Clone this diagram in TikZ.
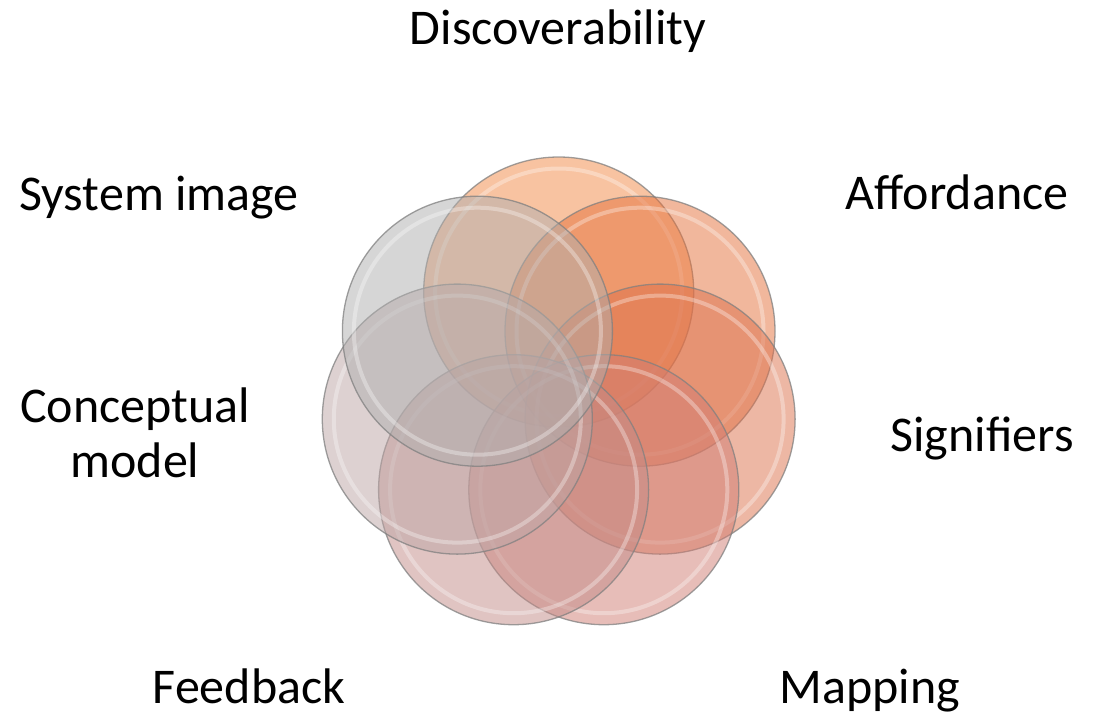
\documentclass[tikz,border=0pt]{standalone}
\usepackage{fontspec}
\setmainfont{Carlito}
\begin{document}
\begin{tikzpicture}[x=1pt,y=-1pt]
\useasboundingbox[fill=white] (0,0) rectangle (1106,716);
\definecolor{cA}{RGB}{243,137,69}
\definecolor{cB}{RGB}{229,112,58}
\definecolor{cC}{RGB}{221,112,75}
\definecolor{cD}{RGB}{209,125,115}
\definecolor{cE}{RGB}{195,139,135}
\definecolor{cF}{RGB}{189,165,165}
\definecolor{cG}{RGB}{175,175,175}
\tikzset{
  bubble/.style={circle, minimum size=270pt, inner sep=0pt, outer sep=0pt,
    fill=#1, fill opacity=0.5, draw=black!50, draw opacity=0.75, line width=1.3pt},
  gloss/.style={circle, minimum size=247pt, inner sep=0pt, outer sep=0pt,
    draw=white, draw opacity=0.32, line width=4pt},
  lbl/.style={font=\fontsize{50}{55}\selectfont, anchor=base, align=center, text=black, inner sep=0pt}
}
% circles, clockwise from top
\node[bubble=cA] (c1) at (558.7,292.0) {};
\node[gloss] (g1) at (c1.center) {};
\node[bubble=cB] (c2) at (640.0,331.2) {};
\node[gloss] (g2) at (c2.center) {};
\node[bubble=cC] (c3) at (660.1,419.1) {};
\node[gloss] (g3) at (c3.center) {};
\node[bubble=cD] (c4) at (603.8,489.7) {};
\node[gloss] (g4) at (c4.center) {};
\node[bubble=cE] (c5) at (513.6,489.7) {};
\node[gloss] (g5) at (c5.center) {};
\node[bubble=cF] (c6) at (457.3,419.1) {};
\node[gloss] (g6) at (c6.center) {};
\node[bubble=cG] (c7) at (477.4,331.2) {};
\node[gloss] (g7) at (c7.center) {};
% labels
\node[lbl] (l1) at (558,44) {Discoverability};
\node[lbl] (l2) at (957,209) {Affordance};
\node[lbl] (l3) at (982,451) {Signifiers};
\node[lbl] (l4) at (870,703) {Mapping};
\node[lbl] (l5) at (249,703) {Feedback};
\node[lbl] (l6) at (135,477) {Conceptual\\model};
\node[lbl] (l7) at (159,210) {System image};
\end{tikzpicture}
\end{document}
